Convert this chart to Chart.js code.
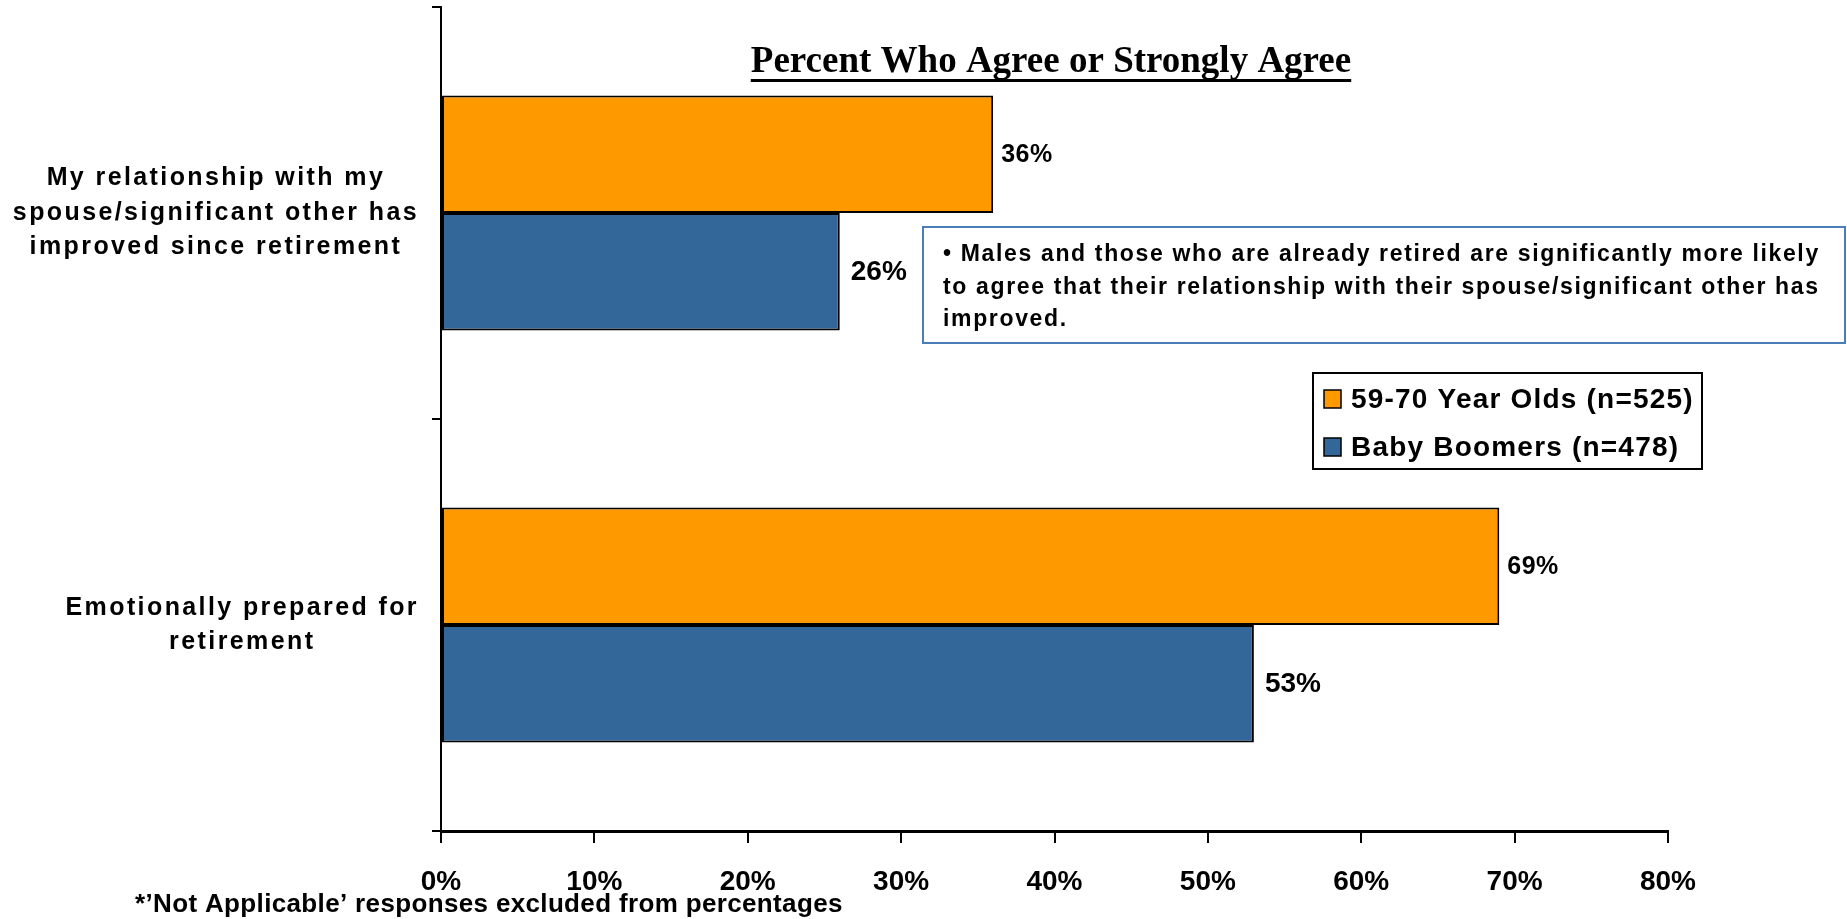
<!DOCTYPE html>
<html>
<head>
<meta charset="utf-8">
<script src="https://cdn.jsdelivr.net/npm/chart.js@4.4.1/dist/chart.umd.min.js"></script>
<style>
	html, body { margin: 0; padding: 0; background: #fff; overflow: hidden; }
	#wrap { width: 1847px; height: 919px; }
</style>
</head>
<body>
<div id="wrap"><canvas id="chart" width="1847" height="919"></canvas></div>
<script>
// categories (one array of lines per bar group)
var categories = [
	['My relationship with my', 'spouse/significant other has', 'improved since retirement'],
	['Emotionally prepared for', 'retirement']
];
var seriesNames = ['59-70 Year Olds (n=525)', 'Baby Boomers (n=478)'];
var seriesColors = ['#FF9900', '#336699'];
var yearOlds = [36, 69];
var babyBoomers = [26, 53];
var xTickValues = [0, 10, 20, 30, 40, 50, 60, 70, 80];
var xTickLabels = ['0%', '10%', '20%', '30%', '40%', '50%', '60%', '70%', '80%'];
var chartTitle = 'Percent Who Agree or Strongly Agree';
var noteLines = [
	'\u2022 Males and those who are already retired are significantly more likely',
	'to agree that their relationship with their spouse/significant other has',
	'improved.'
];
var footnote = '*\u2019Not Applicable\u2019 responses excluded from percentages';

var SANS = "'Liberation Sans', Arial, Helvetica, sans-serif";
var SERIF = "'Liberation Serif', 'Times New Roman', serif";

// y axis labels: each block right-aligned to the axis, lines centred inside the block
var categoryLabels = {
	id: 'categoryLabels',
	afterDraw: function(chart) {
		var ctx = chart.ctx, y = chart.scales.y;
		ctx.save();
		ctx.font = 'bold 25px ' + SANS;
		ctx.letterSpacing = '2.4px';
		ctx.fillStyle = '#000';
		ctx.textAlign = 'center';
		ctx.textBaseline = 'middle';
		var lh = 34.5, right = chart.chartArea.left - 22;
		categories.forEach(function(lines, i) {
			var w = 0;
			lines.forEach(function(l) { w = Math.max(w, ctx.measureText(l).width); });
			var cy = y.getPixelForValue(i);
			var top = cy - (lines.length - 1) * lh / 2;
			lines.forEach(function(l, k) {
				ctx.fillText(l, right - w / 2, top + k * lh);
			});
		});
		ctx.restore();
	}
};

// value labels at the end of each bar
var barValues = {
	id: 'barValues',
	afterDatasetsDraw: function(chart) {
		var ctx = chart.ctx;
		var sizes = [25, 28], gaps = [8, 11];
		ctx.save();
		ctx.fillStyle = '#000';
		ctx.textAlign = 'left';
		ctx.textBaseline = 'middle';
		chart.data.datasets.forEach(function(ds, d) {
			ctx.font = 'bold ' + sizes[d] + 'px ' + SANS;
			ctx.letterSpacing = d === 0 ? '0.5px' : '0px';
			chart.getDatasetMeta(d).data.forEach(function(bar, i) {
				ctx.fillText(ds.data[i] + '%', bar.x + gaps[d], bar.y + 1);
			});
		});
		ctx.restore();
	}
};

// title, note box, legend box, footnote
var decorations = {
	id: 'decorations',
	afterDraw: function(chart) {
		var ctx = chart.ctx;
		ctx.save();
		ctx.fillStyle = '#000';

		// underlined title
		ctx.font = 'bold 37px ' + SERIF;
		ctx.textAlign = 'center';
		ctx.textBaseline = 'alphabetic';
		ctx.fillText(chartTitle, 1051, 72);
		var tw = ctx.measureText(chartTitle).width;
		ctx.fillRect(1051 - tw / 2, 79, tw, 3);

		// note box
		ctx.strokeStyle = '#4A7EBB';
		ctx.lineWidth = 2;
		ctx.fillStyle = '#fff';
		ctx.fillRect(923, 227, 922, 116);
		ctx.strokeRect(923, 227, 922, 116);
		ctx.fillStyle = '#000';
		ctx.textAlign = 'left';
		ctx.font = 'bold 23px ' + SANS;
		ctx.letterSpacing = '1.65px';
		noteLines.forEach(function(l, k) {
			ctx.fillText(l, 943, 261 + k * 32.5);
		});

		// legend box
		ctx.strokeStyle = '#000';
		ctx.fillStyle = '#fff';
		ctx.fillRect(1313, 373, 389, 96);
		ctx.strokeRect(1313, 373, 389, 96);
		ctx.font = 'bold 28px ' + SANS;
		ctx.letterSpacing = '1.2px';
		seriesNames.forEach(function(name, k) {
			var base = 408 + k * 48;
			ctx.fillStyle = seriesColors[k];
			ctx.fillRect(1324, base - 18, 17, 18);
			ctx.lineWidth = 1.5;
			ctx.strokeRect(1324, base - 18, 17, 18);
			ctx.fillStyle = '#000';
			ctx.fillText(name, 1351, base);
		});

		// footnote
		ctx.font = 'bold 26px ' + SANS;
		ctx.letterSpacing = '0.35px';
		ctx.fillText(footnote, 135, 912);
		ctx.restore();
	}
};

new Chart(document.getElementById('chart'), {
	type: 'bar',
	data: {
		labels: categories.map(function(c) { return c.join(' '); }),
		datasets: [{
			label: seriesNames[0],
			data: yearOlds,
			backgroundColor: seriesColors[0],
			borderColor: '#000',
			borderWidth: 2,
			borderSkipped: false
		}, {
			label: seriesNames[1],
			data: babyBoomers,
			backgroundColor: seriesColors[1],
			borderColor: '#000',
			borderWidth: 2,
			borderSkipped: false
		}]
	},
	options: {
		indexAxis: 'y',
		responsive: false,
		animation: false,
		devicePixelRatio: 1,
		categoryPercentage: 0.57,
		barPercentage: 1.0,
		layout: { padding: { left: 0, top: 7, right: 179, bottom: 0 } },
		scales: {
			y: {
				type: 'category',
				offset: true,
				grid: { offset: true, drawOnChartArea: false, drawTicks: true, tickLength: 9, color: '#000', lineWidth: 2 },
				border: { color: '#000', width: 2 },
				ticks: { display: false },
				afterFit: function(s) { s.width = 441; }
			},
			x: {
				min: 0,
				max: 80,
				afterBuildTicks: function(s) { s.ticks = xTickValues.map(function(v) { return { value: v }; }); },
				ticks: {
					callback: function(v, i) { return xTickLabels[i]; },
					font: { family: SANS, size: 28, weight: 'bold' },
					color: '#000',
					padding: 22,
					maxRotation: 0
				},
				grid: { drawOnChartArea: false, drawTicks: true, tickLength: 12, color: '#000', lineWidth: 2 },
				border: { color: '#000', width: 3 },
				afterFit: function(s) { s.height = 88; }
			}
		},
		plugins: {
			legend: { display: false },
			title: { display: false },
			tooltip: { enabled: false }
		}
	},
	plugins: [categoryLabels, barValues, decorations]
});
</script>
</body>
</html>
